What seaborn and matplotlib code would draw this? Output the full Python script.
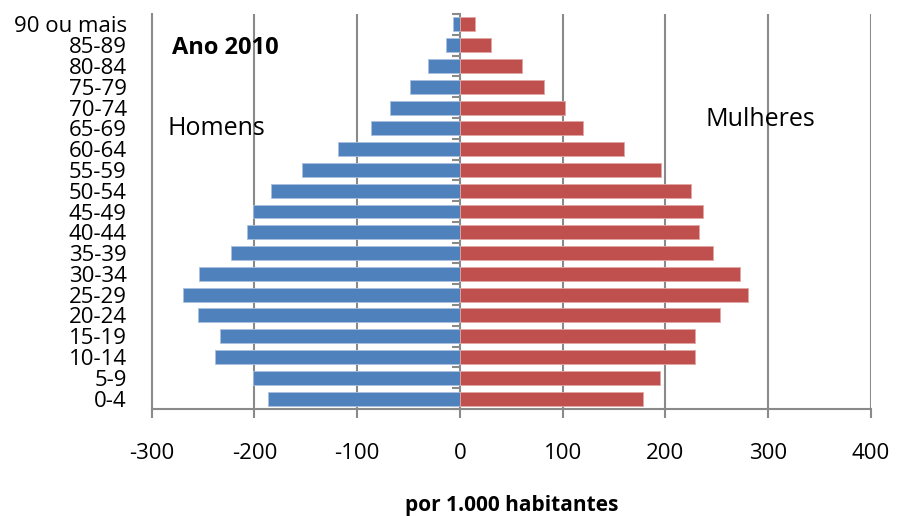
import matplotlib
matplotlib.use("Agg")
import matplotlib.pyplot as plt
import seaborn as sns
import pandas as pd

# Age groups, oldest at the top
age_groups = ["90 ou mais", "85-89", "80-84", "75-79", "70-74", "65-69", "60-64",
              "55-59", "50-54", "45-49", "40-44", "35-39", "30-34", "25-29",
              "20-24", "15-19", "10-14", "5-9", "0-4"]

# Per 1,000 inhabitants (men drawn on the negative side)
homens = [-6.5, -14, -31, -48.5, -68, -87, -119, -154, -184, -201, -207.5,
          -223, -253.5, -270, -255, -234, -238, -201, -186.5]
mulheres = [14.5, 30, 60, 81.5, 102.5, 119.5, 160, 196, 225, 236.5, 232.5,
            246, 272.5, 280.5, 253.5, 228.5, 228.5, 194.5, 178.5]

x_ticks = [-300, -200, -100, 0, 100, 200, 300, 400]

df = pd.DataFrame({"idade": age_groups, "Homens": homens, "Mulheres": mulheres})

sns.set_style("white")
plt.rcParams["font.family"] = ["Open Sans", "DejaVu Sans"]
plt.rcParams["text.color"] = "black"
plt.rcParams["axes.labelcolor"] = "black"
plt.rcParams["xtick.labelcolor"] = "black"
plt.rcParams["ytick.labelcolor"] = "black"

BLUE = "#4F81BD"
RED = "#C0504D"
GRID = "#8A8A8A"

fig = plt.figure(figsize=(9.04, 5.16), dpi=100)
ax = fig.add_axes([151.7 / 904, 1 - 409 / 516, (871 - 151.7) / 904, (409 - 14) / 516])

sns.barplot(data=df, x="Homens", y="idade", order=age_groups, orient="h",
            color=BLUE, saturation=1, width=0.67, edgecolor="#A9C0DE",
            linewidth=0.6, ax=ax, zorder=3)
sns.barplot(data=df, x="Mulheres", y="idade", order=age_groups, orient="h",
            color=RED, saturation=1, width=0.67, edgecolor="#DFA6A4",
            linewidth=0.6, ax=ax, zorder=3)

ax.set_xlim(x_ticks[0], x_ticks[-1])
ax.set_ylim(len(age_groups) - 0.5, -0.5)
ax.set_xticks(x_ticks)
ax.set_xticklabels([str(v) for v in x_ticks], fontsize=16)

# vertical gridlines
for v in x_ticks[1:]:
    if v != 0:
        ax.axvline(v, color=GRID, lw=1.5, zorder=1)

for side in ["top", "right"]:
    ax.spines[side].set_visible(False)
for side in ["left", "bottom"]:
    ax.spines[side].set_color(GRID)
    ax.spines[side].set_linewidth(1.5)

ax.tick_params(axis="x", direction="out", length=6.5, width=1.5, color=GRID,
               pad=18, bottom=True)
ax.tick_params(axis="y", length=0, pad=18, labelsize=16)
ax.set_xlabel("por 1.000 habitantes", fontsize=15, fontweight="bold", labelpad=22)
ax.set_ylabel("")

# category axis crossing at zero, with ticks between the groups
zero_pos = (0 - x_ticks[0]) / (x_ticks[-1] - x_ticks[0])
sec = ax.secondary_yaxis(zero_pos)
sec.set_yticks([k - 0.5 for k in range(len(age_groups) + 1)])
sec.set_yticklabels([])
sec.tick_params(axis="y", direction="out", length=5.5, width=1.5, color=GRID)
sec.spines["left"].set_color(GRID)
sec.spines["left"].set_linewidth(1.5)

ax.text(172 / 904, 1 - 54 / 516, "Ano 2010", transform=fig.transFigure,
        fontsize=17, fontweight="bold", va="baseline", ha="left")
ax.text(168 / 904, 1 - 135 / 516, "Homens", transform=fig.transFigure,
        fontsize=18, va="baseline", ha="left")
ax.text(706 / 904, 1 - 126 / 516, "Mulheres", transform=fig.transFigure,
        fontsize=18, va="baseline", ha="left")

fig.savefig("out.png", dpi=100)
